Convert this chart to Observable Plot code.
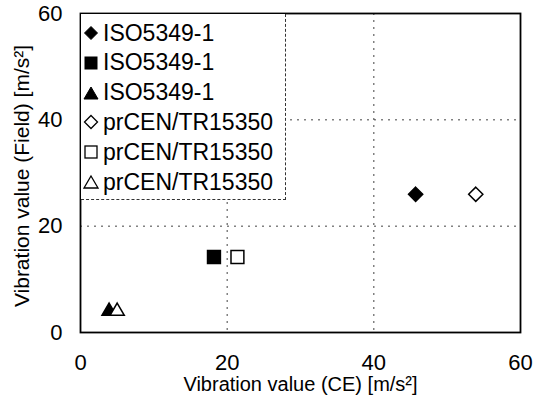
<!DOCTYPE html>
<html><head><meta charset="utf-8">
<script src="https://cdn.jsdelivr.net/npm/d3@7"></script>
<script src="https://cdn.jsdelivr.net/npm/@observablehq/plot@0.6"></script>
<style>
body{margin:0;background:#fff;font-family:"Liberation Sans",Arial,sans-serif;}
#wrap{position:relative;width:546px;height:402px;}
#legend{position:absolute;left:81px;top:14px;width:205px;height:186px;background:#fff;border-right:1.5px dashed #333;border-bottom:1.5px dashed #333;box-sizing:border-box;}
.li{position:absolute;left:2px;height:28px;display:flex;align-items:center;font-size:23px;color:#000;white-space:nowrap;}
.li svg{margin-right:4px;}
</style></head>
<body><div id="wrap"></div>
<script>
const seriesNames = ["ISO5349-1","ISO5349-1","ISO5349-1","prCEN/TR15350","prCEN/TR15350","prCEN/TR15350"];
const symbols = ["diamond","square","triangle","diamond","square","triangle"];
const filled = [true,true,true,false,false,false];
const xValues = [45.7,18.2,3.9,53.9,21.4,5.0];
const yValues = [26.0,14.2,4.0,26.0,14.2,4.0];
const xTicks = [0,20,40,60];
const yTicks = [0,20,40,60];
const gridTicks = [20,40];
const xTitle = "Vibration value (CE) [m/s²]";
const yTitle = "Vibration value (Field) [m/s²]";

const symbolShape = {diamond:"diamond2",square:"square2",triangle:"triangle2"};
const symbolR = {diamond:6.4,square:8.2,triangle:6.8};

const data = seriesNames.map((s,i)=>({name:s,symbol:symbols[i],filled:filled[i],x:xValues[i],y:yValues[i]}));

const chart = Plot.plot({
  width:546,height:402,
  marginLeft:80,marginRight:26,marginTop:13,marginBottom:70,
  style:{fontFamily:"'Liberation Sans',Arial,sans-serif",background:"#fff",color:"#000"},
  x:{domain:[0,60]},
  y:{domain:[0,60]},
  r:{type:"identity"},
  symbol:{type:"identity"},
  marks:[
    Plot.gridX(gridTicks,{stroke:"#222",strokeOpacity:0.85,strokeDasharray:"2,5"}),
    Plot.gridY(gridTicks,{stroke:"#222",strokeOpacity:0.85,strokeDasharray:"2,5"}),
    Plot.axisX(xTicks,{tickSize:0,tickPadding:22,fontSize:22,label:null}),
    Plot.axisY(yTicks,{tickSize:0,tickPadding:18,fontSize:22,label:null}),
    Plot.text([xTitle],{frameAnchor:"bottom",dy:58,fontSize:20,textAnchor:"middle",text:d=>d}),
    Plot.text([yTitle],{frameAnchor:"left",dx:-58,dy:3,rotate:-90,fontSize:21,textAnchor:"middle",text:d=>d}),
    Plot.frame({stroke:"#000",strokeWidth:1.8}),
    Plot.dot(data,{x:"x",y:"y",symbol:d=>symbolShape[d.symbol],r:d=>symbolR[d.symbol],fill:d=>d.filled?"#000":"#fff",stroke:"#000",strokeWidth:1.5})
  ]
});
const wrap=document.getElementById("wrap");
wrap.appendChild(chart);

const lg=document.createElement("div");lg.id="legend";
const paths={
  diamond:'<path d="M8 1.5 L14.5 8 L8 14.5 L1.5 8 Z"/>',
  square:'<rect x="2" y="2" width="12" height="12"/>',
  triangle:'<path d="M8 2 L15 14 L1 14 Z"/>'
};
seriesNames.forEach((s,i)=>{
  const d=document.createElement("div");d.className="li";d.style.top=(5+i*29.8)+"px";
  d.innerHTML=`<svg width="16" height="16" viewBox="0 0 16 16" fill="${filled[i]?"#000":"#fff"}" stroke="#000" stroke-width="${filled[i]?1:1.3}">${paths[symbols[i]]}</svg>${s}`;
  lg.appendChild(d);
});
wrap.appendChild(lg);
</script></body></html>
